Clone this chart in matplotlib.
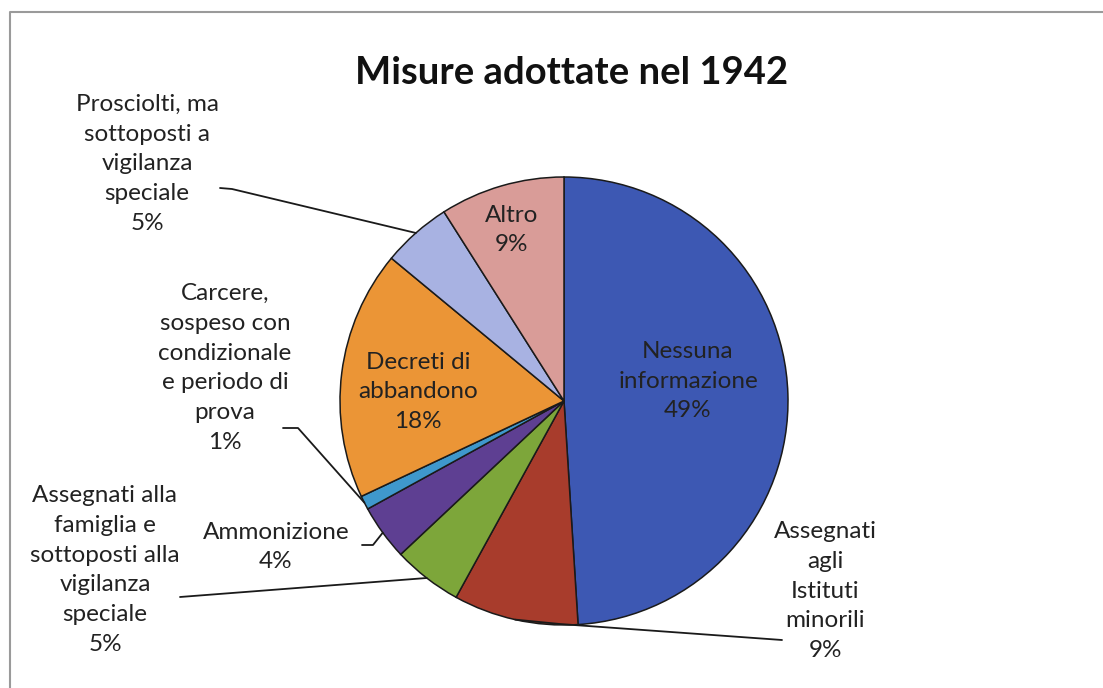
import numpy as np
import matplotlib
matplotlib.use('Agg')
import matplotlib.pyplot as plt

# Slice data, clockwise from 12 o'clock
labels = ['Nessuna\ninformazione', 'Assegnati\nagli\nIstituti\nminorili',
          'Assegnati alla\nfamiglia e\nsottoposti alla\nvigilanza\nspeciale',
          'Ammonizione', 'Carcere,\nsospeso con\ncondizionale\ne periodo di\nprova',
          'Decreti di\nabbandono', 'Prosciolti, ma\nsottoposti a\nvigilanza\nspeciale', 'Altro']
percent = [49, 9, 5, 4, 1, 18, 5, 9]
colors = ['#3d58b3', '#a83c2c', '#7da63a', '#5e3f92', '#3f98cc', '#eb9536', '#a8b2e2', '#d99c98']

# label placement (pixel coords of the page)
label_pos = [(688, 381), (825, 591), (105, 570), (276, 547), (225, 368), (418, 392), (147, 164), (512, 230)]
# where each leader line starts near its label
leader_start = [None, [(782, 640), (560, 624)], [(180, 597)], [(362, 545), (373, 545)],
                [(283, 428), (298, 428)], None, [(220, 188), (232, 189)], None]

W, H = 1103, 688
fig = plt.figure(figsize=(W / 100, H / 100), dpi=100)
ax = fig.add_axes([0, 0, 1, 1])

cx, cy, r = 564, 401, 224
wedges, _ = ax.pie(percent, colors=colors, startangle=-90, counterclock=True,
                   center=(cx, cy), radius=r, frame=True,
                   wedgeprops=dict(edgecolor='#1a1a1a', linewidth=1.1))
ax.set_xlim(0, W)
ax.set_ylim(H, 0)
ax.set_aspect('equal')
ax.axis('off')

font = 'Lato'
for i, w in enumerate(wedges):
    txt = f'{labels[i]}\n{percent[i]}%'
    x, y = label_pos[i]
    ax.text(x, y, txt, ha='center', va='center', multialignment='center',
            fontsize=17.5, family=font, color='#222222', linespacing=1.52)
    if leader_start[i] is not None:
        th = np.deg2rad((w.theta1 + w.theta2) / 2)
        pts = leader_start[i] + [(cx + r * np.cos(th), cy + r * np.sin(th))]
        xs, ys = zip(*pts)
        ax.plot(xs, ys, color='#1a1a1a', lw=1.3, solid_capstyle='round')

ax.text(572, 73, 'Misure adottate nel 1942', ha='center', va='center',
        fontsize=27.5, fontweight='bold', family=font, color='#111111')

# chart frame (only left and top edges are visible in the picture)
ax.plot([10, 10, W + 5], [H + 5, 12, 12], color='#9a9a9a', lw=1.5)

fig.savefig('out.png', dpi=100)
